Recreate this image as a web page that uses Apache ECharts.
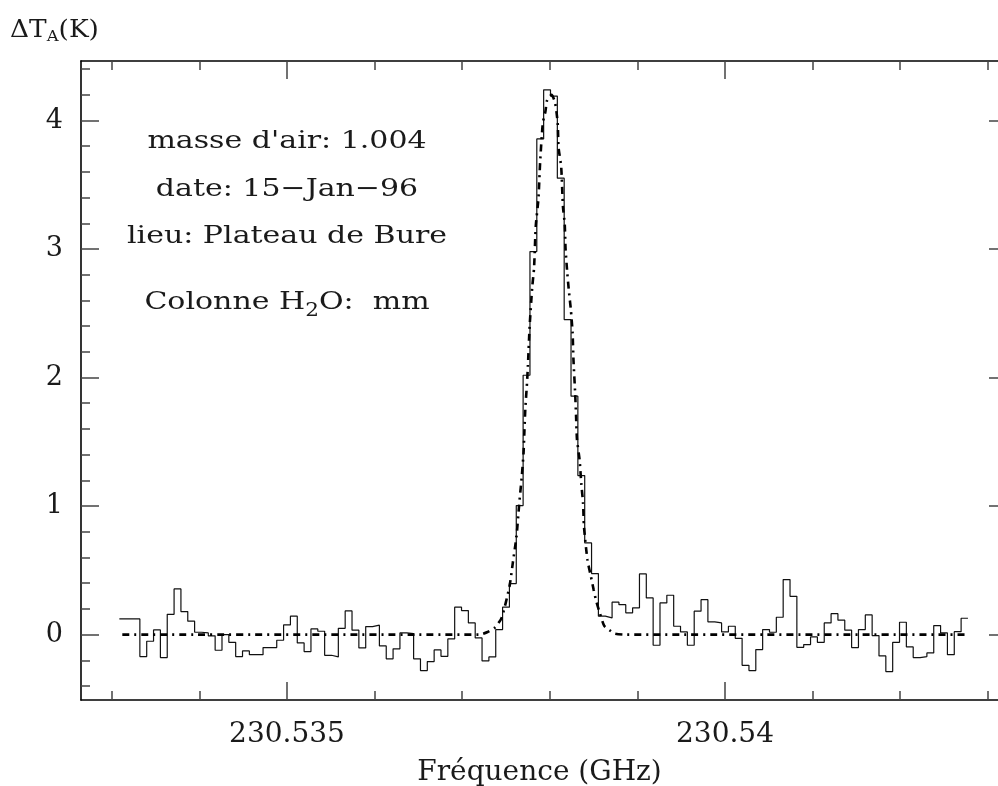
<!DOCTYPE html>
<html>
<head>
<meta charset="utf-8">
<script src="https://cdn.jsdelivr.net/npm/echarts@6/dist/echarts.min.js"></script>
<style>
  html, body { margin: 0; padding: 0; background: #fff; }
  #chart { width: 998px; height: 786px; }
</style>
</head>
<body>
<div id="chart"></div>
<script>
// Spectrum: 124 channels of 78.125 kHz, CHAN_START is the left edge of channel 0
const CHAN_START = 230.533086;   // GHz
const CHAN_WIDTH = 0.000078125;  // GHz

// Measured antenna temperature per channel (K)
const antennaTemp = [
  0.122, 0.122, 0.122, -0.171, -0.052, 0.036, -0.179, 0.158, 0.355, 0.179,
  0.104, 0.018, 0.013, -0.010, -0.122, 0.000, -0.060, -0.171, -0.127, -0.156,
  -0.156, -0.101, -0.101, -0.044, 0.075, 0.143, -0.065, -0.132, 0.044, 0.026,
  -0.161, -0.174, 0.049, 0.184, 0.034, -0.104, 0.062, 0.073, -0.088, -0.189,
  -0.111, 0.013, 0.008, -0.189, -0.280, -0.210, -0.119, -0.169, -0.034, 0.213,
  0.187, 0.091, -0.026, -0.205, -0.174, 0.039, 0.213, 0.397, 1.004, 2.018,
  2.980, 3.857, 4.239, 4.190, 3.551, 2.451, 1.855, 1.237, 0.713, 0.475,
  0.143, 0.130, 0.252, 0.233, 0.169, 0.208, 0.472, 0.285, -0.083, 0.246,
  0.306, 0.065, 0.021, -0.083, 0.182, 0.272, 0.099, 0.091, 0.021, 0.065,
  -0.029, -0.239, -0.280, -0.117, 0.039, 0.018, 0.135, 0.428, 0.298, -0.099,
  -0.078, -0.018, -0.060, 0.091, 0.163, 0.112, 0.034, -0.101, 0.039, 0.153,
  -0.008, -0.166, -0.288, -0.060, 0.096, -0.096, -0.179, -0.171, -0.143, 0.070,
  0.013, -0.156, 0.023, 0.127
];

// Fitted line profile
const fitFreq = [
  230.53312, 230.53720, 230.53729, 230.53737, 230.53745, 230.53754, 230.53758, 230.53762,
  230.53765, 230.53768, 230.53770, 230.53771, 230.53772, 230.53774, 230.53775, 230.53777,
  230.53780, 230.53782, 230.53784, 230.53787, 230.53789, 230.53792, 230.53795, 230.53797,
  230.53802, 230.53806, 230.53809, 230.53810, 230.53813, 230.53815, 230.53817, 230.53818,
  230.53820, 230.53822, 230.53824, 230.53826, 230.53827, 230.53829, 230.53830, 230.53831,
  230.53834, 230.53836, 230.53838, 230.53839, 230.53843, 230.53847, 230.53850, 230.53853,
  230.53857, 230.53862, 230.53868, 230.53874, 230.53886, 230.54276
];
const fitTemp = [
  0, 0, 0.02, 0.052, 0.13, 0.376, 0.57, 0.765,
  1.01, 1.23, 1.41, 1.58, 1.75, 1.96, 2.09, 2.40,
  2.71, 2.85, 3.18, 3.39, 3.68, 3.98, 4.07, 4.16,
  4.20, 4.14, 3.98, 3.79, 3.64, 3.33, 3.20, 3.00,
  2.81, 2.66, 2.53, 2.35, 2.14, 1.87, 1.70, 1.52,
  1.36, 1.17, 1.02, 0.84, 0.58, 0.45, 0.35, 0.26,
  0.17, 0.07, 0.035, 0.008, 0, 0
];

// Axis ticks and labels
const xMajorTicks = [230.535, 230.54];
const xMinorTicks = [230.533, 230.534, 230.535, 230.536, 230.537, 230.538, 230.539, 230.540, 230.541, 230.542, 230.543];
const yMajorTicks = [0, 1, 2, 3, 4];
const yMinorTicks = [-0.4, -0.2, 0.2, 0.4, 0.6, 0.8, 1.2, 1.4, 1.6, 1.8, 2.2, 2.4, 2.6, 2.8,
                     3.2, 3.4, 3.6, 3.8, 4.2, 4.4];

// Plot window (the right-hand frame falls just past the canvas edge)
const X_MIN = 230.5326484, X_MAX = 230.5431164;
const Y_MIN = -0.509, Y_MAX = 4.463;

const FONT = 'DejaVu Serif';
const TEXT_COLOR = '#1a1a1a';

const histData = antennaTemp.map((v, k) => [CHAN_START + k * CHAN_WIDTH, v]);
histData.push([CHAN_START + antennaTemp.length * CHAN_WIDTH, antennaTemp[antennaTemp.length - 1]]);
const fitData = fitFreq.map((f, i) => [f, fitTemp[i]]);

const frameLine = { show: true, onZero: false, lineStyle: { color: '#000', width: 1.6 } };
const noLine = { show: false, onZero: false };
const tickStyle = { color: '#444', width: 1.5 };

function xAxisDef(position, values, len, withLine, withLabel) {
  const ax = {
    type: 'value', position, min: X_MIN, max: X_MAX,
    axisLine: withLine ? frameLine : noLine,
    axisTick: { show: true, inside: true, length: len, customValues: values, lineStyle: tickStyle },
    axisLabel: { show: false },
    splitLine: { show: false }
  };
  if (withLabel) {
    ax.axisLabel = {
      show: true, customValues: values, margin: 21,
      fontFamily: FONT, fontSize: 28, color: TEXT_COLOR,
      formatter: v => String(+v.toFixed(3))
    };
    ax.name = 'Fréquence (GHz)';
    ax.nameLocation = 'middle';
    ax.nameGap = 59;
    ax.nameTextStyle = { fontFamily: FONT, fontSize: 28, color: TEXT_COLOR };
  }
  return ax;
}

function yAxisDef(position, values, len, withLine, withLabel) {
  const ax = {
    type: 'value', position, min: Y_MIN, max: Y_MAX,
    axisLine: withLine ? frameLine : noLine,
    axisTick: { show: true, inside: true, length: len, customValues: values, lineStyle: tickStyle },
    axisLabel: { show: false },
    splitLine: { show: false }
  };
  if (withLabel) {
    ax.axisLabel = {
      show: true, customValues: values, margin: 18,
      fontFamily: FONT, fontSize: 27, color: TEXT_COLOR,
      formatter: v => String(Math.round(v))
    };
  }
  return ax;
}

// Lay out a line of text made of runs (with sub-scripts) one after another
const measureCtx = document.createElement('canvas').getContext('2d');
function textRuns(x0, yc, runs, scaleX, anchor) {
  const widths = runs.map(r => {
    measureCtx.font = r.size + 'px "' + FONT + '"';
    return measureCtx.measureText(r.text).width * scaleX;
  });
  const total = widths.reduce((a, b) => a + b, 0);
  let x = anchor === 'center' ? x0 - total / 2 : x0;
  return runs.map((r, i) => {
    const el = {
      type: 'text', x: x, y: yc + (r.dy || 0), scaleX: scaleX, silent: true,
      style: {
        text: r.text, font: r.size + 'px "' + FONT + '"', fill: TEXT_COLOR,
        textAlign: 'left', textVerticalAlign: 'middle', align: 'left', verticalAlign: 'middle'
      }
    };
    x += widths[i];
    return el;
  });
}

const graphics = [].concat(
  textRuns(10, 31, [
    { text: 'ΔT', size: 24 },
    { text: 'A', size: 15, dy: 6 },
    { text: '(K)', size: 24 }
  ], 1.1, 'left'),
  textRuns(287, 141, [{ text: "masse d'air: 1.004", size: 25 }], 1.2, 'center'),
  textRuns(287, 189, [{ text: 'date: 15\u2212Jan\u221296', size: 25 }], 1.2, 'center'),
  textRuns(287, 236, [{ text: 'lieu: Plateau de Bure', size: 25 }], 1.2, 'center'),
  textRuns(287, 302, [
    { text: 'Colonne H', size: 25 },
    { text: '2', size: 18, dy: 9 },
    { text: 'O:  mm', size: 25 }
  ], 1.2, 'center')
);

const chart = echarts.init(document.getElementById('chart'), null, { renderer: 'canvas' });
chart.setOption({
  animation: false,
  backgroundColor: '#fff',
  grid: { left: 81, top: 61, right: 0, bottom: 86, containLabel: false, outerBoundsMode: 'none' },
  xAxis: [
    xAxisDef('bottom', xMajorTicks, 18, true, true),
    xAxisDef('bottom', xMinorTicks, 9, false, false),
    xAxisDef('top', xMajorTicks, 18, true, false),
    xAxisDef('top', xMinorTicks, 9, false, false)
  ],
  yAxis: [
    yAxisDef('left', yMajorTicks, 18, true, true),
    yAxisDef('left', yMinorTicks, 9, false, false),
    yAxisDef('right', yMajorTicks, 9, false, false)
  ],
  series: [
    {
      name: 'spectre', type: 'line', data: histData, step: 'end',
      xAxisIndex: 0, yAxisIndex: 0, showSymbol: false, silent: true, z: 2,
      lineStyle: { color: '#111', width: 1.2 }
    },
    {
      name: 'ajustement', type: 'line', data: fitData, smooth: 0.2,
      xAxisIndex: 0, yAxisIndex: 0, showSymbol: false, silent: true, z: 3,
      lineStyle: { color: '#000', width: 2.6, type: [7, 5, 2, 5] }
    }
  ],
  graphic: graphics
});
</script>
</body>
</html>
